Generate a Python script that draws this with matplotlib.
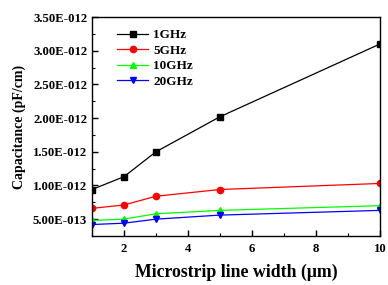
import numpy as np
import matplotlib
matplotlib.use("Agg")
import matplotlib.pyplot as plt
from matplotlib.ticker import FuncFormatter

# line width in um
widths = [1, 2, 3, 5, 10]

# capacitance in pF/cm (as shown in the original axis labels)
cap_1ghz = [0.94e-12, 1.13e-12, 1.50e-12, 2.02e-12, 3.10e-12]
cap_5ghz = [0.66e-12, 0.71e-12, 0.84e-12, 0.94e-12, 1.03e-12]
cap_10ghz = [0.48e-12, 0.50e-12, 0.58e-12, 0.63e-12, 0.70e-12]
cap_20ghz = [0.42e-12, 0.44e-12, 0.50e-12, 0.56e-12, 0.63e-12]

labels = ["1GHz", "5GHz", "10GHz", "20GHz"]
colors = ["#000000", "#ff0000", "#00ff00", "#0000ff"]
markers = ["s", "o", "^", "v"]

x_ticks = [2, 4, 6, 8, 10]
y_ticks = [0.5e-12, 1.0e-12, 1.5e-12, 2.0e-12, 2.5e-12, 3.0e-12, 3.5e-12]

plt.rcParams["font.family"] = ["Liberation Serif", "DejaVu Serif"]
plt.rcParams["font.weight"] = "bold"


def sci_fmt(v, pos):
    if v == 0:
        return "0"
    e = int(np.floor(np.log10(abs(v)) + 1e-9))
    m = v / 10 ** e
    return f"{m:.2f}E{e:04d}"


fig = plt.figure(figsize=(3.88, 2.85), dpi=100)
ax = fig.add_axes([0.237, 0.172, 0.742, 0.768])

for ys, lab, c, mk in zip([cap_1ghz, cap_5ghz, cap_10ghz, cap_20ghz], labels, colors, markers):
    ax.plot(widths, ys, color=c, marker=mk, markersize=4.5, linewidth=0.9, label=lab)

ax.set_xlim(1, 10)
ax.set_ylim(0.25e-12, 3.5e-12)
ax.set_xticks(x_ticks)
ax.set_xticks([1, 3, 5, 7, 9], minor=True)
ax.set_yticks(y_ticks)
ax.set_yticks([0.75e-12, 1.25e-12, 1.75e-12, 2.25e-12, 2.75e-12, 3.25e-12], minor=True)
ax.yaxis.set_major_formatter(FuncFormatter(sci_fmt))
ax.xaxis.set_major_formatter(FuncFormatter(lambda v, p: f"{int(v)}"))

ax.tick_params(which="major", direction="in", length=4, width=1, labelsize=9.2)
ax.tick_params(axis="x", which="major", pad=5)
ax.tick_params(which="minor", direction="in", length=2, width=0.8)
for lbl in ax.get_xticklabels() + ax.get_yticklabels():
    lbl.set_fontweight("bold")
for s in ax.spines.values():
    s.set_linewidth(1.0)

ax.set_xlabel("Microstrip line width (μm)", fontsize=12.8, fontweight="bold", labelpad=6)
ax.set_ylabel("Capacitance (pF/cm)", fontsize=10, fontweight="bold", labelpad=5)

leg = ax.legend(loc="upper left", frameon=False, fontsize=9.5, handlelength=2.3,
                handletextpad=0.4, labelspacing=0.25, borderaxespad=0.0,
                bbox_to_anchor=(0.07, 0.97))
for t in leg.get_texts():
    t.set_fontweight("bold")

fig.savefig("out.png", dpi=100)
